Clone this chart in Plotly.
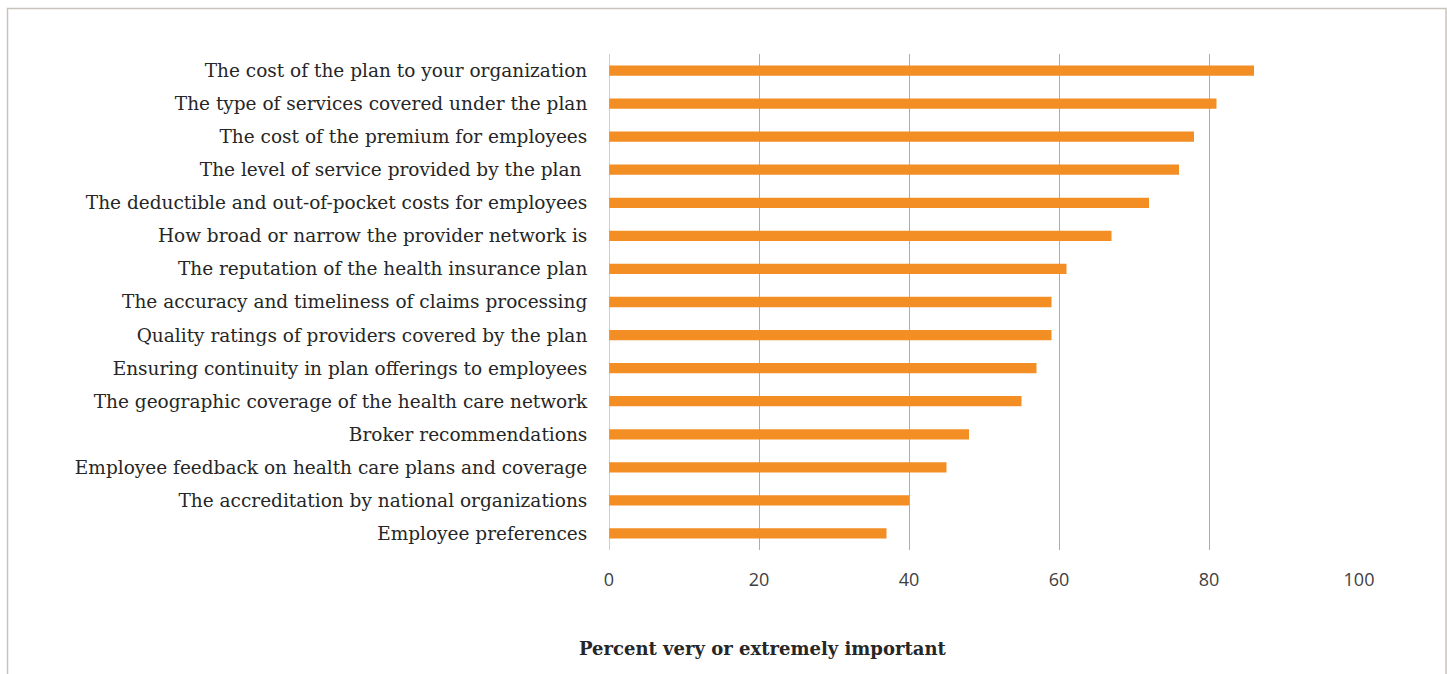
import plotly.graph_objects as go

categories = [
    "The cost of the plan to your organization",
    "The type of services covered under the plan",
    "The cost of the premium for employees",
    "The level of service provided by the plan ",
    "The deductible and out-of-pocket costs for employees",
    "How broad or narrow the provider network is",
    "The reputation of the health insurance plan",
    "The accuracy and timeliness of claims processing",
    "Quality ratings of providers covered by the plan",
    "Ensuring continuity in plan offerings to employees",
    "The geographic coverage of the health care network",
    "Broker recommendations",
    "Employee feedback on health care plans and coverage",
    "The accreditation by national organizations",
    "Employee preferences",
]
values = [86, 81, 78, 76, 72, 67, 61, 59, 59, 57, 55, 48, 45, 40, 37]
tick_values = [0, 20, 40, 60, 80, 100]
x_title = "Percent very or extremely important"

W, H = 1447, 674
L, R, T, B = 609, 88, 54, 124
plot_w = W - L - R

def px_to_paper_x(px):
    return (px - L) / plot_w

def py_to_paper_y(py):
    return 1 - (py - T) / (H - T - B)

fig = go.Figure(go.Bar(
    x=values,
    y=categories,
    orientation="h",
    marker=dict(color="#F28E24", line=dict(width=0)),
    width=0.31,
))

fig.update_layout(
    width=W, height=H,
    margin=dict(l=L, r=R, t=T, b=B),
    paper_bgcolor="white",
    plot_bgcolor="white",
    showlegend=False,
    xaxis=dict(
        range=[0, 100],
        tickvals=tick_values,
        showgrid=True,
        gridcolor="#ADADAD",
        gridwidth=1.2,
        zeroline=False,
        showline=False,
        ticks="",
        ticklen=0,
        tickfont=dict(family="Open Sans", size=18, color="#404040"),
        fixedrange=True,
    ),
    yaxis=dict(
        autorange="reversed",
        showgrid=False,
        zeroline=False,
        showline=False,
        ticks="outside",
        ticklen=17,
        tickcolor="rgba(0,0,0,0)",
        tickfont=dict(family="DejaVu Serif", size=18.5, color="#262626"),
        fixedrange=True,
    ),
    shapes=[
        # axis line at zero
        dict(type="line", xref="x", yref="paper", x0=0, x1=0, y0=0, y1=1,
             line=dict(color="#ADADAD", width=1.2)),
        # outer frame
        dict(type="rect", xref="paper", yref="paper",
             x0=px_to_paper_x(7.5), x1=px_to_paper_x(1446),
             y0=py_to_paper_y(690), y1=py_to_paper_y(8.5),
             line=dict(color="#C9C3BA", width=1.5), fillcolor="rgba(0,0,0,0)",
             layer="below"),
    ],
    annotations=[
        dict(text="<b>" + x_title + "</b>", xref="paper", yref="paper",
             x=px_to_paper_x(762), y=py_to_paper_y(648),
             xanchor="center", yanchor="middle", showarrow=False,
             font=dict(family="DejaVu Serif", size=18, color="#262626")),
    ],
)
fig.update_xaxes(ticklabelstandoff=17)

fig.write_html("out.html")
